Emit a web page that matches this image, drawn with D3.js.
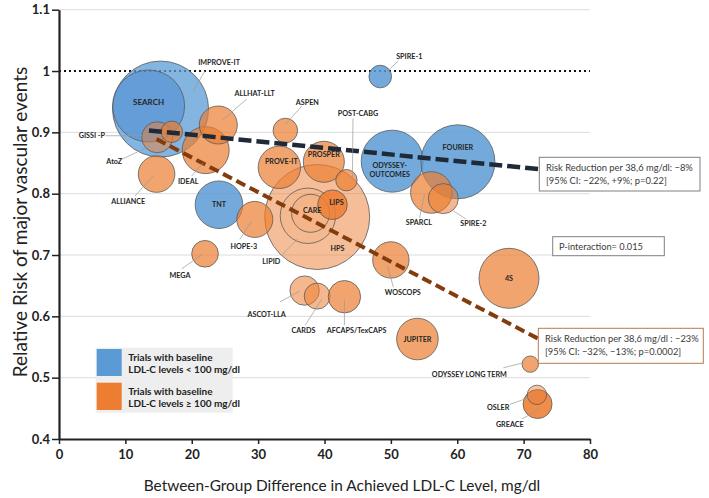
<!DOCTYPE html>
<html>
<head>
<meta charset="utf-8">
<script src="https://cdn.jsdelivr.net/npm/d3@7"></script>
<style>
  body { margin: 0; background: #fff; }
  svg { font-family: Lato, "Open Sans", sans-serif; }
</style>
</head>
<body>
<script>
// trials
var trials = ["IMPROVE-IT", "SEARCH", "SPIRE-1", "ODYSSEY-OUTCOMES", "FOURIER", "TNT",
  "HPS", "LIPID", "CARE", "LIPS", "IDEAL", "ALLHAT-LLT", "AtoZ", "GISSI -P", "ALLIANCE",
  "ASPEN", "PROVE-IT", "PROSPER", "POST-CABG", "SPARCL", "SPIRE-2", "HOPE-3",
  "MEGA", "ASCOT-LLA", "CARDS", "AFCAPS/TexCAPS", "WOSCOPS", "4S", "JUPITER",
  "ODYSSEY LONG TERM", "GREACE", "OSLER"];
var ldlDiff = [15.3, 13.5, 48.4, 50.2, 60.1, 24.1,
  38.9, 37.5, 37.9, 41.2, 22.1, 24.0, 14.8, 17.0, 14.7,
  34.1, 33.2, 39.9, 43.3, 56.1, 57.9, 29.5,
  22.0, 37.0, 38.9, 43.0, 50.0, 67.8, 54.0,
  71.0, 72.1, 72.0];
var relRisk = [0.938, 0.943, 0.991, 0.853, 0.852, 0.782,
  0.762, 0.764, 0.768, 0.782, 0.871, 0.912, 0.892, 0.901, 0.832,
  0.903, 0.843, 0.852, 0.822, 0.802, 0.792, 0.758,
  0.702, 0.642, 0.633, 0.632, 0.692, 0.662, 0.563,
  0.522, 0.457, 0.472];
// bubble weight (events)
var weight = [18180, 10230, 1010, 7580, 10800, 4470,
  21750, 6050, 2850, 1730, 4360, 2850, 1900, 900, 2640,
  1190, 3550, 3320, 900, 3410, 1780, 2560,
  1400, 1700, 1330, 2070, 2610, 7100, 3410,
  530, 1660, 740];
// baseline LDL-C group: "low" < 100 mg/dl, "high" >= 100 mg/dl
var group = ["low", "low", "low", "low", "low", "low",
  "high", "high", "high", "high", "high", "high", "high", "high", "high",
  "high", "high", "high", "high", "high", "high", "high",
  "high", "high", "high", "high", "high", "high", "high",
  "high", "high", "high"];

var xTicks = [0, 10, 20, 30, 40, 50, 60, 70, 80];
var yTicks = [0.4, 0.5, 0.6, 0.7, 0.8, 0.9, 1.0, 1.1];

// fitted lines (start / end in data units)
var fitLow = [[13.55, 0.903], [72.3, 0.840]];
var fitHigh = [[14.7, 0.889], [72.3, 0.563]];

var svg = d3.select("body").append("svg")
  .attr("width", 709).attr("height", 498);

var x = d3.scaleLinear().domain([0, 80]).range([59, 590]);
var y = d3.scaleLinear().domain([0.4, 1.1]).range([439, 9.7]);
var r = d3.scaleSqrt().domain([0, 18180]).range([0, 48]);

// gridlines
svg.append("g").selectAll("line")
  .data(yTicks.filter(function (d) { return d > 0.4 && d !== 1.0; }))
  .enter().append("line")
  .attr("x1", x(0)).attr("x2", x(80))
  .attr("y1", function (d) { return y(d); })
  .attr("y2", function (d) { return y(d); })
  .attr("stroke", "#dcdcdc").attr("stroke-width", 1);

// reference line at RR = 1
svg.append("line")
  .attr("x1", x(0)).attr("x2", x(80))
  .attr("y1", y(1)).attr("y2", y(1))
  .attr("stroke", "#111").attr("stroke-width", 2)
  .attr("stroke-dasharray", "2,3");

var data = trials.map(function (t, i) {
  return { name: t, x: ldlDiff[i], y: relRisk[i], w: weight[i], g: group[i] };
});

// shade per trial
var shade = {
  "IMPROVE-IT": ["#5B9BD5", 0.75],
  "SEARCH": ["#4a8ad0", 0.55],
  "HPS": ["#ED7D31", 0.5],
  "LIPID": ["#ED7D31", 0.08],
  "CARE": ["#ED7D31", 0.08],
  "LIPS": ["#ED7D31", 0.85],
  "AtoZ": ["#ED7D31", 0.5],
  "ASCOT-LLA": ["#ED7D31", 0.55],
  "CARDS": ["#ED7D31", 0.55],
  "SPIRE-2": ["#ED7D31", 0.55],
  "OSLER": ["#ED7D31", 0.45],
  "GREACE": ["#ED7D31", 0.88]
};
function fillOf(d) {
  if (shade[d.name]) return shade[d.name][0];
  return d.g === "low" ? "#5B9BD5" : "#ED7D31";
}
function opOf(d) {
  if (shade[d.name]) return shade[d.name][1];
  return d.g === "low" ? 0.85 : 0.7;
}

svg.append("g").selectAll("circle")
  .data(data).enter().append("circle")
  .attr("cx", function (d) { return x(d.x); })
  .attr("cy", function (d) { return y(d.y); })
  .attr("r", function (d) { return r(d.w); })
  .attr("fill", fillOf)
  .attr("fill-opacity", opOf)
  .attr("stroke", "#5a5a5a")
  .attr("stroke-width", 0.8);

// fitted dashed lines
svg.append("line")
  .attr("x1", x(fitLow[0][0])).attr("y1", y(fitLow[0][1]))
  .attr("x2", x(fitLow[1][0])).attr("y2", y(fitLow[1][1]))
  .attr("stroke", "#1f2a38").attr("stroke-width", 4.5)
  .attr("stroke-dasharray", "13,5");
svg.append("line")
  .attr("x1", x(fitHigh[0][0])).attr("y1", y(fitHigh[0][1]))
  .attr("x2", x(fitHigh[1][0])).attr("y2", y(fitHigh[1][1]))
  .attr("stroke", "#843C0C").attr("stroke-width", 4)
  .attr("stroke-dasharray", "10,5");

// labels: offset from bubble centre in px, optional leader [x1,y1,x2,y2]
var labelPos = {
  "IMPROVE-IT": [58.5, -46.7, [44.5, -38.3, 32.8, -18.3]],
  "SEARCH": [0, -3.7],
  "SPIRE-1": [29, -20, [18, -15.6, 3, -1.3]],
  "ODYSSEY-OUTCOMES": [-2.5, 3.7],
  "FOURIER": [0, -14],
  "TNT": [0, 0],
  "HPS": [20.3, 31.8],
  "LIPID": [-36.6, 45.6, [-25.3, 38.3, -10.3, 23.3]],
  "CARE": [1.7, -3.3],
  "LIPS": [4, -2],
  "IDEAL": [-17.5, 31.5, [-14.1, 25.9, -2.5, 12.5]],
  "ALLHAT-LLT": [36.4, -31.7, [28.4, -26, 3.4, -4.3]],
  "AtoZ": [-43, 24.3, [-35.3, 22, -7, 8.7]],
  "GISSI -P": [-80, 4.2, [-66.7, 4, -0.7, 4]],
  "ALLIANCE": [-28.4, 27.6, [-21.7, 22, -3.4, 2]],
  "ASPEN": [22, -27.7, [16.4, -24.4, -0.3, -5.7]],
  "PROVE-IT": [2, -6],
  "PROSPER": [0, -7.5],
  "POST-CABG": [11.6, -66.9, [6.6, -61.9, 6, -1.2]],
  "SPARCL": [-12.5, 30.3, [-11.8, 25.3, -6.8, 2]],
  "SPIRE-2": [30, 24.5, [22.7, 20.5, 10, 12.2]],
  "HOPE-3": [-11, 27.3, [-15, 20, -3.3, 2]],
  "MEGA": [-25, 21.5, [-23.3, 15.1, -3.3, 0.8]],
  "ASCOT-LLA": [-38, 24.4, [-24.7, 11.4, -4.7, 0.4]],
  "CARDS": [-13.7, 34.7, [-12, 29, 4.7, 3]],
  "AFCAPS/TexCAPS": [12.2, 34.2, [0, 28.5, 0, 2.5]],
  "WOSCOPS": [11.9, 32.5, [2.5, 27.2, -3.5, 5.9]],
  "4S": [0, 0],
  "JUPITER": [0, 0],
  "ODYSSEY LONG TERM": [-60.9, 10.3, [-26.9, 3.6, -6.9, -1.4]],
  "GREACE": [-27.8, 20, [-15.8, 15, 2.2, 5]],
  "OSLER": [-38.7, 12.8, [-27, 9.5, 0, 0]]
};

var lab = svg.append("g");
data.forEach(function (d) {
  var p = labelPos[d.name];
  var cx = x(d.x), cy = y(d.y);
  if (p[2]) {
    lab.append("line")
      .attr("x1", cx + p[2][0]).attr("y1", cy + p[2][1])
      .attr("x2", cx + p[2][2]).attr("y2", cy + p[2][3])
      .attr("stroke", "#9a9a9a").attr("stroke-width", 0.7);
  }
  var t = lab.append("text")
    .attr("x", cx + p[0]).attr("y", cy + p[1])
    .attr("text-anchor", "middle")
    .attr("dominant-baseline", "central")
    .attr("font-size", d.name === "SEARCH" ? 8 : 7.2)
    .attr("font-weight", "bold")
    .attr("fill", "#262626");
  if (d.name === "ODYSSEY-OUTCOMES") {
    t.append("tspan").attr("x", cx + p[0]).text("ODYSSEY-");
    t.append("tspan").attr("x", cx + p[0]).attr("dy", 9.3).text("OUTCOMES");
  } else {
    t.text(d.name);
  }
});

// axes
var xAxis = svg.append("g")
  .attr("transform", "translate(0," + y(0.4) + ")")
  .call(d3.axisBottom(x).tickValues(xTicks).tickSize(5).tickSizeOuter(0).tickPadding(6));
var yAxis = svg.append("g")
  .attr("transform", "translate(" + x(0) + ",0)")
  .call(d3.axisLeft(y).tickValues(yTicks).tickSize(7).tickSizeOuter(0).tickPadding(2)
    .tickFormat(function (d) { return d === 1 ? "1" : d3.format(".1f")(d); }));
[xAxis, yAxis].forEach(function (a) {
  a.select(".domain").attr("stroke", "#222").attr("stroke-width", 2.2);
  a.selectAll(".tick line").attr("stroke", "#222").attr("stroke-width", 1.5);
  a.selectAll(".tick text").attr("font-family", "Lato, sans-serif")
    .attr("font-size", 13).attr("font-weight", "bold").attr("fill", "#222");
});

svg.append("text")
  .attr("x", 342).attr("y", 491)
  .attr("text-anchor", "middle")
  .attr("font-size", 15.4).attr("fill", "#222")
  .text("Between-Group Difference in Achieved LDL-C Level, mg/dl");
svg.append("text")
  .attr("transform", "translate(27,222) rotate(-90)")
  .attr("text-anchor", "middle")
  .attr("font-size", 19).attr("fill", "#222")
  .text("Relative Risk of major vascular events");

// annotation boxes; text is fitted to the width seen in the picture
function box(bx, by, bw, bh, stroke, lines, tx, ty, fitW) {
  svg.append("rect").attr("x", bx).attr("y", by).attr("width", bw).attr("height", bh)
    .attr("fill", "#fff").attr("stroke", stroke).attr("stroke-width", 1);
  var ts = lines.map(function (s, i) {
    return svg.append("text").attr("x", tx).attr("y", ty + i * 13.5)
      .attr("font-size", 10.5).attr("fill", "#3a3a3a").text(s);
  });
  var wMax = d3.max(ts, function (t) { return t.node().getComputedTextLength(); });
  ts.forEach(function (t) { t.attr("font-size", 10.5 * fitW / wMax); });
}
box(539.3, 157.3, 160.7, 33.7, "#808080",
  ["Risk Reduction per 38,6 mg/dl: \u22128%", "[95% CI: \u221222%, +9%; p=0.22]"], 546, 170.5, 147);
box(552.7, 236.7, 111.6, 19, "#808080", ["P-interaction= 0.015"], 559, 249.5, 84);
box(538.3, 328.3, 165, 35, "#b77a50",
  ["Risk Reduction per 38,6 mg/dl : \u221223%", "[95% CI: \u221232%, \u221213%; p=0.0002]"], 545, 341.5, 154);

// legend
var leg = svg.append("g");
leg.append("rect").attr("x", 95.7).attr("y", 347.7).attr("width", 137).attr("height", 65)
  .attr("fill", "#eeeeee");
leg.append("rect").attr("x", 96.7).attr("y", 349).attr("width", 25).attr("height", 27)
  .attr("fill", "#5B9BD5");
leg.append("rect").attr("x", 96.7).attr("y", 382.7).attr("width", 25).attr("height", 27.3)
  .attr("fill", "#ED7D31");
[["Trials with baseline", 360.5], ["LDL-C levels < 100 mg/dl", 372.5],
 ["Trials with baseline", 394.5], ["LDL-C levels \u2265 100 mg/dl", 406.5]].forEach(function (l) {
  leg.append("text").attr("x", 128.3).attr("y", l[1])
    .attr("font-size", 10).attr("font-weight", "bold").attr("fill", "#222").text(l[0]);
});
</script>
</body>
</html>
